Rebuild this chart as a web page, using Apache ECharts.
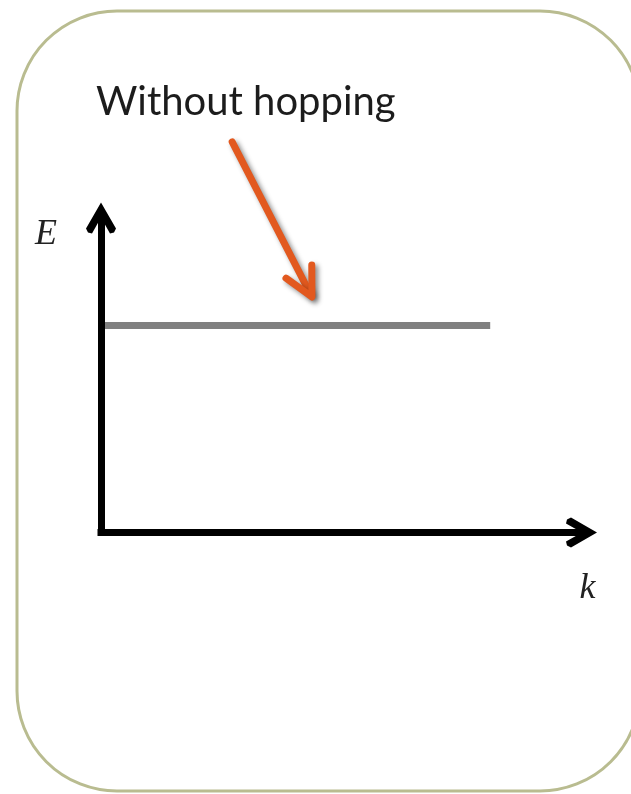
<!DOCTYPE html>
<html>
<head>
<meta charset="utf-8">
<script src="https://cdn.jsdelivr.net/npm/echarts@6/dist/echarts.min.js"></script>
<style>
  html, body { margin: 0; padding: 0; background: #fff; }
  #chart { width: 631px; height: 794px; }
</style>
</head>
<body>
<div id="chart"></div>
<script>
// band without hopping: E(k) stays flat
const kValues = [0, 8.1];
const energyValues = [6.58, 6.58];
// callout arrow (from label down to the band), data coords [k0, E0, k1, E1]
const calloutArrow = [2.73, 12.42, 4.39, 7.49];
const calloutText = 'Without hopping';
const xName = 'k';
const yName = 'E';

var chartDom = document.getElementById('chart');
var myChart = echarts.init(chartDom);

// open chevron used as axis arrow head (points up, ECharts rotates it)
const chevron = 'path://M15 0L30 26L28 30L24 31L15 15L6 31L2 30L0 26Z';

const axisLineStyle = { color: '#000', width: 7, cap: 'square' };

var option = {
    backgroundColor: '#fff',
    animation: false,
    title: {
        text: calloutText,
        left: 91,
        top: 77,
        textStyle: { fontFamily: 'Lato', fontWeight: 'normal', fontSize: 40, color: '#1c1c1c' }
    },
    graphic: [
        {
            // rounded frame round the slide
            type: 'rect',
            z: -10,
            shape: { x: 17, y: 11, width: 623, height: 780, r: 100 },
            style: { fill: 'none', stroke: '#b9bc90', lineWidth: 3 }
        }
    ],
    grid: {
        left: 101, right: 49.5, top: 218, bottom: 261.5,
        containLabel: false, outerBoundsMode: 'none'
    },
    xAxis: {
        type: 'value', min: 0, max: 10, z: 5,
        splitLine: { show: false }, axisTick: { show: false }, axisLabel: { show: false },
        axisLine: { show: true, onZero: false, symbol: ['none', chevron], symbolSize: [30, 33], lineStyle: axisLineStyle },
        name: xName,
        nameLocation: 'end',
        nameGap: 6,
        nameTextStyle: {
            fontFamily: 'Liberation Serif', fontStyle: 'italic', fontSize: 36, color: '#222',
            align: 'center', verticalAlign: 'top', padding: [38, 0, 0, 0]
        }
    },
    yAxis: {
        type: 'value', min: 0, max: 10, z: 5,
        splitLine: { show: false }, axisTick: { show: false }, axisLabel: { show: false },
        axisLine: { show: true, onZero: false, symbol: ['none', chevron], symbolSize: [30, 33], lineStyle: axisLineStyle },
        name: yName,
        nameLocation: 'end',
        nameGap: -17,
        nameTextStyle: {
            fontFamily: 'Liberation Serif', fontStyle: 'italic', fontSize: 36, color: '#222',
            align: 'right', verticalAlign: 'middle', padding: [0, 44, 0, 0]
        }
    },
    series: [
        {
            name: 'Without hopping',
            type: 'line',
            data: kValues.map((k, i) => [k, energyValues[i]]),
            symbol: 'none',
            lineStyle: { color: '#808080', width: 7 },
            z: 2
        },
        {
            name: 'callout',
            type: 'custom',
            clip: false,
            z: 10,
            data: [calloutArrow],
            renderItem: function (params, api) {
                const p0 = api.coord([api.value(0), api.value(1)]);
                const p1 = api.coord([api.value(2), api.value(3)]);
                const ang = Math.atan2(p1[1] - p0[1], p1[0] - p0[0]);
                const len = 32, spread = 0.47;
                const w1 = [p1[0] - len * Math.cos(ang - spread), p1[1] - len * Math.sin(ang - spread)];
                const w2 = [p1[0] - len * Math.cos(ang + spread), p1[1] - len * Math.sin(ang + spread)];
                const end = [p1[0] - 4 * Math.cos(ang), p1[1] - 4 * Math.sin(ang)];
                const style = {
                    stroke: '#e2591f', lineWidth: 7, lineCap: 'round', lineJoin: 'round', fill: null,
                    shadowBlur: 5, shadowColor: 'rgba(0,0,0,0.45)', shadowOffsetX: 3, shadowOffsetY: 3
                };
                return {
                    type: 'group',
                    children: [
                        { type: 'polyline', shape: { points: [p0, end] }, style: style },
                        { type: 'polyline', shape: { points: [w1, p1, w2] }, style: style }
                    ]
                };
            }
        }
    ]
};

myChart.setOption(option);
window.addEventListener('resize', () => myChart.resize());
</script>
</body>
</html>
